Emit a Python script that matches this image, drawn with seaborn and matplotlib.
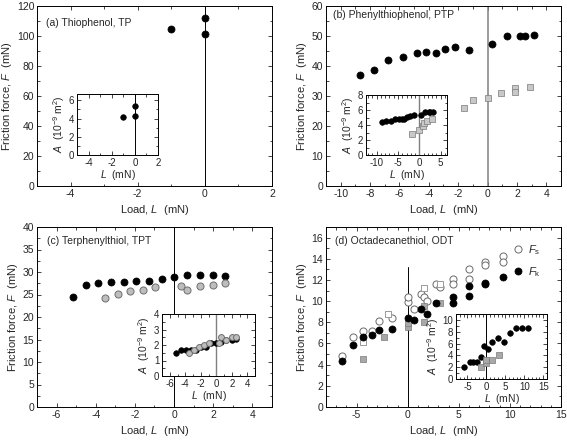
import matplotlib
matplotlib.use("Agg")
import matplotlib.pyplot as plt
from matplotlib.ticker import MultipleLocator
import seaborn as sns

# (a) thiophenol, TP
tp_load = [-1.0, 0.0, 0.0]
tp_friction = [105.0, 112.0, 101.5]
tp_area = [4.2, 5.4, 4.3]

# (b) phenylthiophenol, PTP
ptp_load = [-8.68, -7.7, -6.75, -5.79, -4.81, -4.17, -3.54, -2.88, -2.24, -1.28,
            0.31, 1.29, 2.2, 2.54, 3.18]
ptp_friction = [37.0, 38.6, 42.0, 43.0, 44.3, 44.8, 44.3, 45.8, 46.4, 45.4,
                47.2, 50.0, 50.0, 50.0, 50.3]
ptp_area = [4.4, 4.5, 4.5, 4.8, 4.8, 4.8, 4.8, 5.1, 5.2, 5.4, 5.4, 5.8, 5.8, 5.8, 5.8]
ptp_sq_load = [-1.63, -1.01, 0.0, 0.93, 1.9, 1.9, 2.86]
ptp_sq_friction = [25.9, 28.7, 29.2, 31.1, 32.6, 31.2, 33.1]
ptp_sq_area_load = [-1.6, 0.0, 0.9, 1.0, 1.9, 2.9]
ptp_sq_area = [2.8, 3.4, 3.9, 4.3, 4.6, 4.8]

# (c) terphenylthiol, TPT
tpt_load = [-5.17, -4.49, -3.87, -3.21, -2.57, -1.92, -1.28, -0.62, 0.02, 0.67,
            1.31, 1.97, 2.61]
tpt_friction = [24.4, 27.1, 27.6, 27.7, 27.7, 28.1, 27.9, 28.5, 29.0, 29.4,
                29.4, 29.4, 29.2]
tpt_area = [1.5, 1.7, 1.7, 1.7, 1.7, 1.9, 1.9, 2.1, 2.1, 2.2, 2.3, 2.3, 2.4]
tpt_gray_load = [-3.52, -2.88, -2.24, -1.59, -0.95, 0.35, 0.67, 1.31, 1.97, 2.61]
tpt_gray_friction = [24.3, 25.2, 25.7, 26.0, 26.6, 26.9, 26.0, 27.0, 27.2, 27.6]
tpt_gray_area = [1.5, 1.7, 1.9, 2.0, 2.1, 2.1, 2.5, 2.3, 2.5, 2.5]

# (d) octadecanethiol, ODT
odt_fs_load = [-6.4, -5.4, -4.4, -3.5, -2.8, -1.5, 0.0, 0.0, 0.6, 1.3, 1.6, 1.9,
               2.8, 3.2, 4.4, 4.4, 6.0, 6.0, 7.6, 7.6, 9.3, 9.3, 10.8]
odt_fs = [4.8, 6.6, 7.2, 7.2, 8.1, 8.4, 9.9, 10.4, 9.3, 10.7, 10.4, 10.0,
          11.6, 11.3, 12.1, 11.6, 13.0, 12.1, 13.7, 13.4, 14.3, 13.7, 14.9]
odt_fk_load = [-6.4, -5.4, -4.4, -3.5, -2.8, -1.5, 0.0, 0.6, 1.3, 1.9, 2.8,
               4.4, 4.4, 6.0, 6.0, 7.6, 7.6, 9.3, 10.8]
odt_fk = [4.3, 5.9, 6.6, 6.8, 7.3, 7.4, 8.4, 8.2, 9.3, 8.8, 9.8,
          10.4, 9.8, 11.4, 10.5, 11.7, 11.6, 12.3, 12.8]
odt_sq_open_load = [-4.4, -1.9, 1.6, 3.2]
odt_sq_open = [6.1, 8.8, 11.2, 11.6]
odt_sq_gray_load = [-4.4, -2.3, 0.0, 0.0, 1.6, 1.6, 3.2]
odt_sq_gray = [4.5, 6.6, 7.6, 7.9, 8.0, 9.5, 9.8]
odt_area_load = [-5.9, -4.4, -3.4, -2.4, -1.5, -0.5, 0.5, 1.5, 3.1, 4.6, 6.3, 7.9, 9.5, 11.1]
odt_area = [2.0, 2.8, 2.8, 2.8, 3.8, 5.6, 5.0, 6.3, 7.0, 6.3, 7.8, 8.6, 8.6, 8.6]
odt_sq_area_load = [-1.4, 0.0, 0.0, 1.6, 3.3]
odt_sq_area = [2.1, 2.7, 3.2, 3.3, 4.1]

XLABEL = "Load, $L$  (mN)"
YLABEL = "Friction force, $F$  (mN)"
INSET_X = "$L$  (mN)"
INSET_Y = "$A$  (10$^{-9}$ m$^2$)"


def style_axis(ax, xlim, ylim, xmaj, xmin, ymaj, ymin, fs):
    ax.set_xlim(xlim)
    ax.set_ylim(ylim)
    ax.xaxis.set_major_locator(MultipleLocator(xmaj))
    ax.xaxis.set_minor_locator(MultipleLocator(xmin))
    ax.yaxis.set_major_locator(MultipleLocator(ymaj))
    ax.yaxis.set_minor_locator(MultipleLocator(ymin))
    ax.tick_params(which='both', direction='in', top=True, right=True,
                   labelsize=fs, width=0.6, pad=2)
    ax.tick_params(which='major', length=3)
    ax.tick_params(which='minor', length=1.8)
    for sp in ax.spines.values():
        sp.set_linewidth(0.7)
        sp.set_color('black')


def dots(ax, x, y, s=26, face='black', edge='black', marker='o', lw=0.5):
    sns.scatterplot(x=x, y=y, ax=ax, s=s, color=face, edgecolor=edge,
                    marker=marker, linewidth=lw, zorder=3, legend=False)


def main():
    sns.set_style("ticks")
    plt.rcParams['font.family'] = ['Liberation Sans', 'DejaVu Sans']
    plt.rcParams['mathtext.fontset'] = 'custom'
    plt.rcParams['mathtext.rm'] = 'Liberation Sans'
    plt.rcParams['mathtext.it'] = 'Liberation Sans:italic'
    plt.rcParams['axes.unicode_minus'] = False

    fig = plt.figure(figsize=(5.67, 4.42), dpi=100)
    W, H = 567.0, 442.0

    def box(x0, y0, x1, y1):
        return [x0 / W, 1 - y1 / H, (x1 - x0) / W, (y1 - y0) / H]

    axa = fig.add_axes(box(37, 6, 272, 186))
    axb = fig.add_axes(box(326, 6, 561, 186))
    axc = fig.add_axes(box(37, 227, 272, 407))
    axd = fig.add_axes(box(326, 227, 561, 407))
    ina = fig.add_axes(box(77, 94, 158, 155))
    inb = fig.add_axes(box(366, 95, 447, 155))
    inc = fig.add_axes(box(162, 314, 255, 376))
    ind = fig.add_axes(box(456, 314, 547, 379))

    gray_line = '#808080'

    # (a)
    axa.axvline(0, color='black', lw=0.7, zorder=1)
    dots(axa, tp_load, tp_friction)
    style_axis(axa, (-5, 2), (0, 120), 2, 1, 20, 10, 7.5)
    axa.text(0.037, 0.906, "(a) Thiophenol, TP", transform=axa.transAxes,
             fontsize=7.5, va='center')
    ina.axvline(0, color='black', lw=0.7, zorder=1)
    dots(ina, tp_load, tp_area, s=16)
    style_axis(ina, (-5, 2), (0, 6.7), 2, 1, 2, 1, 7)

    # (b)
    axb.axvline(0, color=gray_line, lw=1.1, zorder=1)
    dots(axb, ptp_load, ptp_friction)
    dots(axb, ptp_sq_load, ptp_sq_friction, s=20, face='#c8c8c8', edge='#7a7a7a', marker='s')
    style_axis(axb, (-11, 5), (0, 60), 2, 1, 10, 5, 7.5)
    axb.text(0.031, 0.95, "(b) Phenylthiophenol, PTP", transform=axb.transAxes,
             fontsize=7.5, va='center')
    inb.axvline(0, color=gray_line, lw=1.0, zorder=1)
    dots(inb, ptp_load, ptp_area, s=16)
    dots(inb, ptp_sq_area_load, ptp_sq_area, s=13, face='#c8c8c8', edge='#7a7a7a', marker='s')
    style_axis(inb, (-12.5, 6.5), (0, 8), 5, 1, 2, 1, 7)

    # (c)
    axc.axvline(0, color='black', lw=0.7, zorder=1)
    dots(axc, tpt_load, tpt_friction)
    dots(axc, tpt_gray_load, tpt_gray_friction, face='#bdbdbd', edge='#6e6e6e', lw=0.7)
    style_axis(axc, (-7, 5), (0, 40), 2, 1, 5, 2.5, 7.5)
    axc.text(0.041, 0.92, "(c) Terphenylthiol, TPT", transform=axc.transAxes,
             fontsize=7.5, va='center')
    inc.axvline(0, color=gray_line, lw=1.0, zorder=1)
    dots(inc, tpt_load, tpt_area, s=16)
    dots(inc, tpt_gray_load, tpt_gray_area, s=18, face='#bdbdbd', edge='#6e6e6e', lw=0.7)
    style_axis(inc, (-7, 5), (0, 4), 2, 1, 1, 0.5, 7)

    # (d)
    axd.plot([0, 0], [0, 13.2], color='black', lw=0.7, zorder=1)
    dots(axd, odt_fs_load, odt_fs, face='white', edge='#6a6a6a', lw=0.7)
    dots(axd, odt_sq_open_load, odt_sq_open, s=20, face='white', edge='#9a9a9a', marker='s', lw=0.7)
    dots(axd, odt_sq_gray_load, odt_sq_gray, s=20, face='#a8a8a8', edge='#7a7a7a', marker='s')
    dots(axd, odt_fk_load, odt_fk)
    style_axis(axd, (-8, 15), (0, 17), 5, 1, 2, 1, 7.5)
    axd.text(0.038, 0.922, "(d) Octadecanethiol, ODT", transform=axd.transAxes,
             fontsize=7.5, va='center')
    axd.text(11.8, 14.8, "$F_\\mathrm{s}$", fontsize=8, va='center')
    axd.text(11.8, 12.7, "$F_\\mathrm{k}$", fontsize=8, va='center')
    ind.axvline(0, color='black', lw=0.7, zorder=1)
    dots(ind, odt_area_load, odt_area, s=16)
    dots(ind, odt_sq_area_load, odt_sq_area, s=13, face='#a8a8a8', edge='#7a7a7a', marker='s')
    style_axis(ind, (-8, 16), (0, 11), 5, 1, 2, 1, 7)

    for ax in (axa, axb, axc, axd):
        ax.set_xlabel(XLABEL, fontsize=8, labelpad=3)
        ax.set_ylabel(YLABEL, fontsize=8, labelpad=2)
    for ax in (ina, inb, inc, ind):
        ax.set_xlabel(INSET_X, fontsize=7.5, labelpad=0)
        ax.set_ylabel(INSET_Y, fontsize=7.5, labelpad=1)

    fig.savefig("out.png", dpi=100)


if __name__ == "__main__":
    main()
